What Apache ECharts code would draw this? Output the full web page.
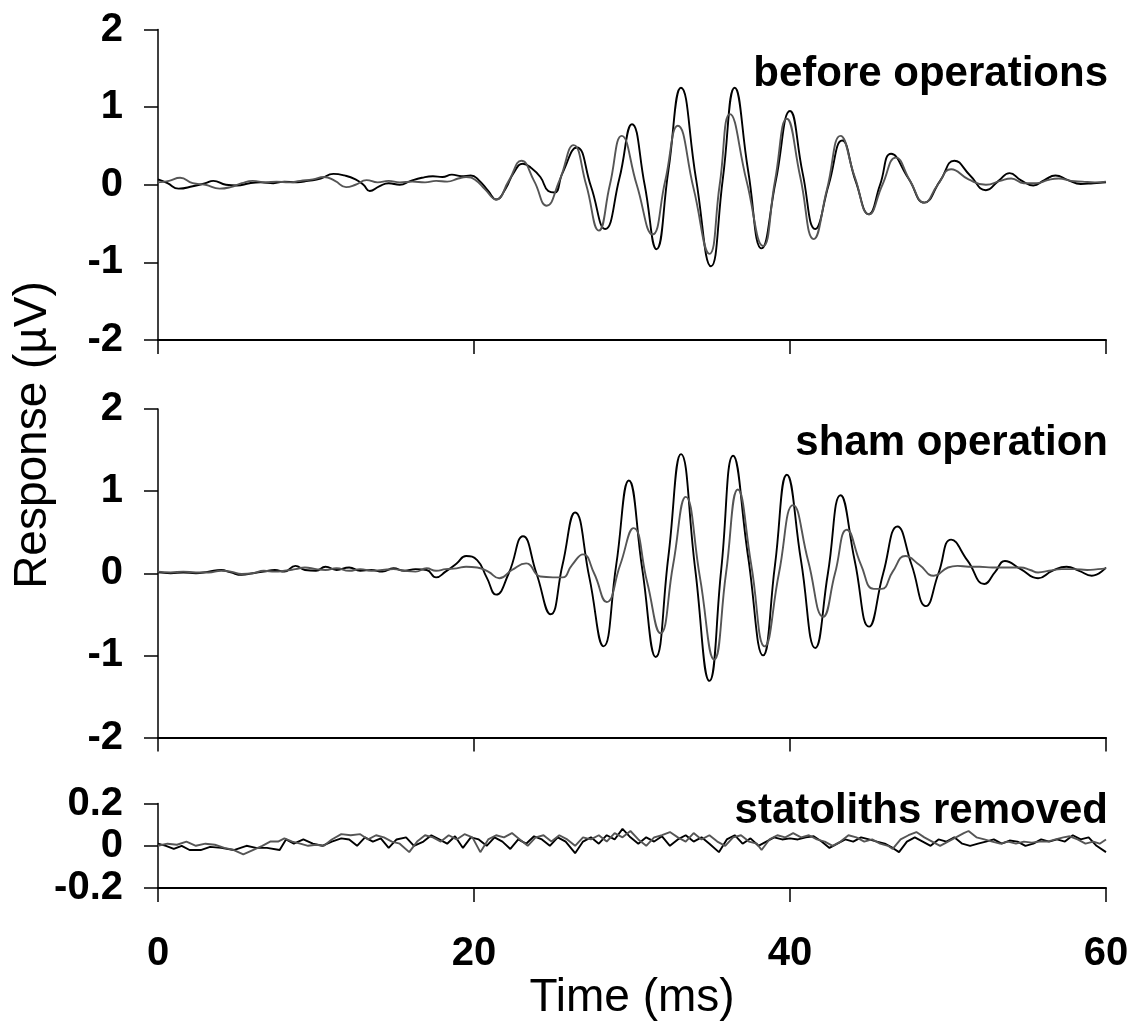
<!DOCTYPE html>
<html>
<head>
<meta charset="utf-8">
<script src="https://cdn.jsdelivr.net/npm/echarts@6/dist/echarts.min.js"></script>
<style>
  html, body { margin: 0; padding: 0; background: #ffffff; }
  #chart { width: 1133px; height: 1022px; }
</style>
</head>
<body>
<div id="chart"></div>
<script>
// ---- Data (time in ms, response in µV) ----
const panelTitles = ['before operations', 'sham operation', 'statoliths removed'];

const beforeBlack = [[0,0.07],[0.6,0.02],[1.3,-0.05],[2.2,-0.02],[3.0,0.02],[3.5,0.05],[4.3,0.0],[5.0,-0.01],[5.8,0.02],[6.5,0.03],[7.3,0.02],[8.0,0.04],[8.8,0.03],[9.5,0.05],[10.3,0.08],[11.1,0.14],[11.8,0.12],[12.5,0.07],[13.0,0.0],[13.4,-0.08],[14.0,-0.02],[14.6,0.02],[15.3,0.0],[16.0,0.05],[16.7,0.09],[17.4,0.11],[18.0,0.1],[18.6,0.13],[19.2,0.11],[19.8,0.12],[20.3,0.06],[20.9,-0.08],[21.4,-0.19],[22.0,-0.05],[22.5,0.15],[23.1,0.27],[23.6,0.22],[24.2,0.1],[24.7,-0.08],[25.1,-0.1],[25.6,0.15],[26.5,0.48],[27.4,-0.02],[28.3,-0.57],[29.2,0.08],[30.0,0.78],[30.8,0.0],[31.55,-0.83],[32.3,0.18],[33.1,1.25],[34.05,0.08],[35.0,-1.05],[35.75,0.08],[36.5,1.25],[37.35,0.18],[38.2,-0.82],[39.1,0.05],[40.0,0.95],[40.8,0.15],[41.6,-0.57],[42.45,0.0],[43.3,0.57],[44.15,0.05],[45.0,-0.38],[45.7,0.0],[46.4,0.40],[47.5,0.08],[48.5,-0.23],[49.5,0.05],[50.4,0.31],[51.4,0.12],[52.4,-0.07],[53.2,0.05],[53.9,0.15],[54.6,0.06],[55.4,-0.01],[56.1,0.06],[56.8,0.12],[57.6,0.06],[58.4,0.01],[59.2,0.02],[60,0.03]];

const beforeGray = [[0,0.03],[0.7,0.05],[1.4,0.09],[2.2,0.02],[3.0,0.0],[3.9,-0.05],[4.6,-0.03],[5.3,0.02],[6.0,0.05],[6.8,0.03],[7.5,0.04],[8.3,0.03],[9.0,0.05],[9.8,0.07],[10.5,0.1],[11.2,0.05],[11.9,-0.03],[12.5,0.0],[13.2,0.06],[13.9,0.03],[14.6,0.05],[15.3,0.03],[16.1,0.04],[16.9,0.03],[17.6,0.05],[18.3,0.04],[19.0,0.08],[19.5,0.1],[20.1,0.06],[20.7,-0.06],[21.4,-0.19],[22.2,0.05],[23.0,0.31],[23.8,0.05],[24.6,-0.27],[25.4,0.05],[26.3,0.51],[27.1,0.0],[27.9,-0.59],[28.6,0.0],[29.35,0.63],[30.3,0.0],[31.3,-0.64],[32.1,0.05],[32.9,0.76],[33.9,-0.05],[34.9,-0.89],[35.55,0.0],[36.2,0.91],[37.25,0.05],[38.3,-0.79],[39.05,0.05],[39.8,0.85],[40.65,0.1],[41.5,-0.70],[42.35,-0.05],[43.2,0.63],[44.1,0.1],[45.0,-0.38],[45.85,0.0],[46.7,0.35],[47.6,0.05],[48.5,-0.23],[49.35,0.0],[50.2,0.20],[51.3,0.07],[52.4,0.0],[53.3,0.05],[54.0,0.08],[54.8,0.02],[55.6,0.02],[56.3,0.06],[57.0,0.08],[57.8,0.05],[58.5,0.04],[59.3,0.03],[60,0.04]];

const shamBlack = [[0,0.01],[0.8,0.0],[1.6,0.01],[2.4,0.0],[3.2,0.02],[4.0,0.04],[4.6,0.01],[5.3,-0.02],[6.0,0.0],[6.7,0.02],[7.4,0.04],[8.0,0.02],[8.7,0.09],[9.3,0.04],[10.0,0.03],[10.6,0.08],[11.3,0.04],[12.1,0.07],[12.8,0.03],[13.5,0.04],[14.2,0.02],[14.9,0.06],[15.6,0.03],[16.3,0.05],[17.0,0.04],[17.6,-0.05],[18.2,0.02],[18.9,0.12],[19.5,0.21],[20.2,0.16],[20.8,-0.05],[21.4,-0.26],[22.2,0.0],[23.1,0.45],[23.95,0.0],[24.85,-0.50],[25.6,0.1],[26.4,0.74],[27.3,-0.05],[28.2,-0.89],[29.0,0.1],[29.8,1.13],[30.65,0.05],[31.5,-1.02],[32.3,0.2],[33.1,1.45],[34.0,0.05],[34.9,-1.31],[35.65,0.05],[36.4,1.43],[37.35,0.2],[38.3,-1.0],[39.05,0.1],[39.8,1.2],[40.7,0.15],[41.6,-0.91],[42.4,0.0],[43.2,0.95],[44.1,0.15],[45.0,-0.65],[45.9,0.0],[46.8,0.57],[47.7,0.1],[48.6,-0.40],[49.4,0.0],[50.2,0.41],[51.25,0.15],[52.3,-0.13],[53.0,0.02],[53.6,0.15],[54.6,0.05],[55.7,-0.06],[56.6,0.03],[57.5,0.08],[58.3,0.03],[59.1,-0.03],[60,0.07]];

const shamGray = [[0,0.02],[0.8,0.01],[1.6,0.02],[2.4,0.01],[3.2,0.01],[4.0,0.03],[4.6,0.02],[5.3,-0.01],[6.0,0.0],[6.7,0.03],[7.4,0.02],[8.0,0.03],[8.7,0.05],[9.3,0.07],[10.0,0.05],[10.6,0.04],[11.3,0.06],[12.1,0.03],[12.8,0.05],[13.5,0.03],[14.2,0.04],[14.9,0.05],[15.6,0.03],[16.3,0.02],[17.0,0.06],[17.6,0.03],[18.2,0.05],[18.9,0.06],[19.5,0.08],[20.2,0.07],[20.9,0.02],[21.6,-0.06],[22.4,0.04],[23.3,0.12],[24.2,-0.04],[25.0,-0.05],[25.6,-0.05],[26.2,0.1],[26.9,0.23],[27.6,0.0],[28.4,-0.35],[29.25,0.1],[30.1,0.55],[30.95,-0.1],[31.8,-0.73],[32.6,0.1],[33.4,0.93],[34.3,-0.05],[35.2,-1.05],[35.95,0.0],[36.7,1.02],[37.55,0.1],[38.4,-0.89],[39.3,0.0],[40.2,0.83],[41.15,0.15],[42.1,-0.53],[42.85,0.0],[43.6,0.53],[44.5,0.1],[45.3,-0.19],[45.8,-0.19],[46.5,0.02],[47.3,0.21],[48.2,0.1],[49.1,-0.03],[50.0,0.07],[50.6,0.09],[51.3,0.08],[52.0,0.08],[52.8,0.07],[53.6,0.07],[54.6,0.07],[55.2,0.04],[55.7,0.01],[56.4,0.03],[57.2,0.05],[58.0,0.05],[58.8,0.04],[59.5,0.05],[60,0.06]];

const statBlack = [[0,0.01],[0.5,0.0],[1.0,-0.015],[1.5,0.0],[2.0,-0.02],[2.7,-0.02],[3.3,-0.005],[4.0,-0.01],[4.8,-0.02],[5.6,0.0],[6.2,-0.01],[6.9,-0.01],[7.7,-0.02],[8.1,0.03],[8.6,0.01],[9.2,0.03],[9.8,0.01],[10.4,0.0],[11.0,0.02],[11.6,0.035],[12.1,0.03],[12.6,0.0],[13.1,0.04],[13.6,0.02],[14.1,0.035],[14.6,-0.01],[15.1,0.03],[15.7,0.04],[16.2,0.0],[16.8,0.02],[17.3,0.05],[17.8,0.03],[18.3,0.01],[18.8,0.045],[19.3,-0.01],[19.8,0.04],[20.3,0.03],[20.8,0.0],[21.3,0.04],[21.8,0.02],[22.3,-0.015],[22.8,0.03],[23.3,0.01],[23.8,0.045],[24.3,0.03],[24.8,0.0],[25.3,0.04],[25.8,0.02],[26.4,-0.035],[26.9,0.02],[27.4,0.04],[27.9,0.01],[28.4,0.05],[28.9,0.03],[29.4,0.08],[29.9,0.04],[30.4,0.01],[30.9,0.04],[31.4,0.02],[31.9,0.045],[32.4,0.0],[32.9,0.03],[33.4,0.05],[33.9,0.02],[34.4,0.04],[34.9,0.01],[35.5,-0.03],[36.0,0.03],[36.5,0.05],[37.0,0.01],[37.5,0.035],[38.0,0.0],[38.5,0.02],[39.0,0.04],[39.5,0.03],[40.0,0.035],[40.5,0.03],[41.0,0.04],[41.5,0.045],[42.0,0.02],[42.5,-0.01],[43.0,0.01],[43.5,0.03],[44.0,0.02],[44.5,0.04],[45.0,0.03],[45.5,0.02],[46.0,0.01],[46.5,-0.01],[46.9,-0.03],[47.4,0.02],[47.9,0.04],[48.4,0.02],[48.9,0.0],[49.4,0.03],[49.9,0.02],[50.4,0.04],[50.9,0.01],[51.4,0.0],[51.9,0.01],[52.4,0.02],[52.9,0.03],[53.4,0.01],[53.9,0.025],[54.4,0.02],[54.9,0.0],[55.4,0.01],[55.9,0.03],[56.4,0.02],[56.9,0.03],[57.4,0.02],[57.9,0.05],[58.4,0.03],[58.9,0.04],[59.4,0.0],[60,-0.03]];

const statGray = [[0,0.0],[0.6,0.01],[1.2,0.005],[1.8,0.02],[2.4,0.0],[3.0,0.01],[3.6,0.005],[4.2,-0.01],[4.8,-0.02],[5.4,-0.04],[6.0,-0.02],[6.6,0.0],[7.1,0.02],[7.6,0.02],[8.0,0.035],[8.5,0.02],[9.0,0.01],[9.5,0.0],[10.0,0.005],[10.5,0.0],[11.0,0.03],[11.6,0.055],[12.2,0.05],[12.8,0.055],[13.3,0.03],[13.8,0.05],[14.3,0.04],[14.8,0.02],[15.3,0.01],[15.9,-0.03],[16.4,0.02],[16.9,0.05],[17.4,0.04],[17.9,0.02],[18.4,0.05],[18.9,0.03],[19.4,0.055],[19.9,0.04],[20.4,-0.03],[20.9,0.03],[21.4,0.05],[21.9,0.04],[22.4,0.06],[22.9,0.03],[23.4,0.0],[23.9,0.04],[24.4,0.05],[24.9,0.02],[25.4,0.05],[25.9,0.03],[26.4,0.0],[26.9,0.04],[27.4,0.03],[27.9,0.05],[28.4,0.02],[28.9,0.06],[29.4,0.04],[29.9,0.07],[30.4,0.03],[30.9,0.0],[31.4,0.04],[31.9,0.05],[32.4,0.065],[32.9,0.04],[33.4,0.02],[33.9,0.06],[34.4,0.03],[34.9,0.05],[35.4,0.02],[35.9,0.0],[36.4,0.04],[36.9,0.05],[37.4,0.02],[37.9,0.01],[38.2,-0.02],[38.7,0.03],[39.2,0.05],[39.7,0.04],[40.2,0.06],[40.7,0.04],[41.2,0.05],[41.7,0.03],[42.2,0.02],[42.7,0.0],[43.2,0.02],[43.7,0.05],[44.2,0.04],[44.7,0.02],[45.2,0.03],[45.7,0.01],[46.2,0.0],[46.5,-0.015],[47.0,0.03],[47.5,0.05],[48.0,0.065],[48.5,0.04],[49.0,0.02],[49.5,0.0],[50.0,0.02],[50.5,0.04],[51.0,0.06],[51.3,0.07],[51.8,0.04],[52.3,0.03],[52.8,0.02],[53.3,0.01],[53.8,0.02],[54.3,0.01],[54.8,0.02],[55.3,0.015],[55.8,0.02],[56.3,0.02],[56.8,0.03],[57.3,0.04],[57.7,0.045],[58.2,0.03],[58.7,0.01],[59.2,0.02],[59.6,0.01],[60,0.03]];

const xRange = { min: 0, max: 60, interval: 20 };
const yRangesBig = { min: -2, max: 2, interval: 1 };
const yRangeSmall = { min: -0.2, max: 0.2, interval: 0.2 };

// ---- Chart ----
const FONT = "'Liberation Sans', Arial, Helvetica, sans-serif";
const chart = echarts.init(document.getElementById('chart'), null, { renderer: 'canvas' });

const grids = [
  { left: 158, width: 948, top: 29.5, height: 310.5 },
  { left: 158, width: 948, top: 409, height: 328.5 },
  { left: 158, width: 948, top: 803.5, height: 92.5 }
];

function xAxisFor(i, showLabels) {
  return {
    type: 'value', gridIndex: i, min: xRange.min, max: xRange.max, interval: xRange.interval,
    axisLine: { show: true, onZero: false, lineStyle: { color: '#000', width: 2 } },
    axisTick: { show: true, inside: false, length: 14, lineStyle: { color: '#000', width: 1.5 } },
    splitLine: { show: false },
    axisLabel: {
      show: showLabels, color: '#000', fontSize: 40, fontWeight: 'bold', fontFamily: FONT,
      margin: 66, verticalAlign: 'middle', showMinLabel: true, showMaxLabel: true
    },
    name: showLabels ? 'Time (ms)' : '',
    nameLocation: 'middle', nameGap: 93,
    nameTextStyle: { color: '#000', fontSize: 46, fontFamily: FONT, verticalAlign: 'middle' }
  };
}
function yAxisFor(i, range) {
  return {
    type: 'value', gridIndex: i, min: range.min, max: range.max, interval: range.interval,
    axisLine: { show: true, onZero: false, lineStyle: { color: '#000', width: 1.5 } },
    axisTick: { show: true, inside: false, length: 14, lineStyle: { color: '#000', width: 1.5 } },
    splitLine: { show: false },
    axisLabel: {
      show: true, color: '#000', fontSize: 40, fontWeight: 'bold', fontFamily: FONT, margin: 35,
      showMinLabel: true, showMaxLabel: true,
      formatter: v => String(Math.round(v * 10) / 10)
    }
  };
}

function lineSeries(i, data, color) {
  return {
    type: 'line', xAxisIndex: i, yAxisIndex: i, data: data,
    showSymbol: false, smooth: i < 2 ? 0.5 : false,
    lineStyle: { color: color, width: 1.9 }, itemStyle: { color: color },
    animation: false, silent: true
  };
}

const titleY = [74.5, 443.5, 811.5];

chart.setOption({
  backgroundColor: '#ffffff',
  animation: false,
  grid: grids,
  xAxis: [xAxisFor(0, false), xAxisFor(1, false), xAxisFor(2, true)],
  yAxis: [yAxisFor(0, yRangesBig), yAxisFor(1, yRangesBig), yAxisFor(2, yRangeSmall)],
  series: [
    lineSeries(0, beforeBlack, '#000000'),
    lineSeries(0, beforeGray, '#555555'),
    lineSeries(1, shamBlack, '#000000'),
    lineSeries(1, shamGray, '#555555'),
    lineSeries(2, statBlack, '#000000'),
    lineSeries(2, statGray, '#555555')
  ],
  graphic: [
    ...panelTitles.map((t, i) => ({
      type: 'text', x: 1108, y: titleY[i],
      style: { text: t, fill: '#000', font: 'bold 42px ' + FONT, textAlign: 'right', textVerticalAlign: 'middle' }
    })),
    {
      type: 'text', x: 33, y: 435, rotation: Math.PI / 2,
      style: { text: 'Response (\u00B5V)', fill: '#000', font: '46px ' + FONT, textAlign: 'center', textVerticalAlign: 'middle' }
    }
  ]
});
</script>
</body>
</html>
